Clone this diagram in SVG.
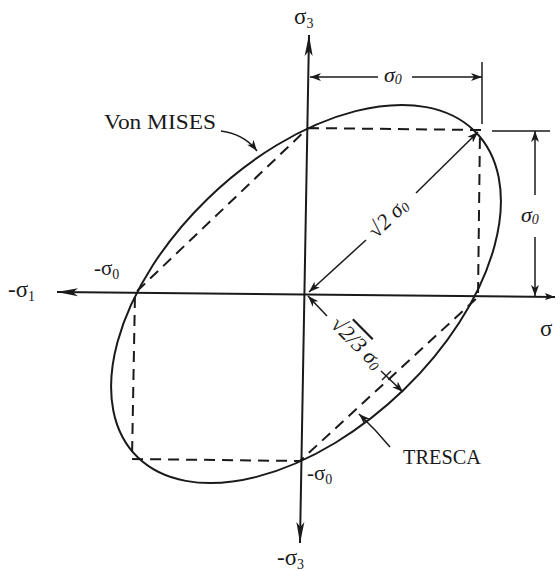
<svg xmlns="http://www.w3.org/2000/svg" width="560" height="571" viewBox="0 0 560 571">
<style>
.ln{stroke:#1a1a1a;stroke-width:2;fill:none}
.thin{stroke:#1a1a1a;stroke-width:1.5;fill:none}
.dash{stroke:#1a1a1a;stroke-width:2;fill:none;stroke-dasharray:11 7}
.lbl{font-family:"Liberation Serif","Times New Roman",serif;font-size:21px;fill:#1a1a1a}
.big{font-size:23px}
.sub{font-size:14px}
.hand{font-family:"Liberation Serif","Times New Roman",serif;font-style:italic;font-size:22px;fill:#1a1a1a}
</style>
<defs>
<marker id="ax" markerUnits="userSpaceOnUse" markerWidth="22" markerHeight="10" refX="21" refY="5" orient="auto-start-reverse">
<path d="M0,1 L21,5 L0,9 L5,5 z" fill="#1a1a1a"/>
</marker>
<marker id="da" markerUnits="userSpaceOnUse" markerWidth="12" markerHeight="8" refX="11" refY="4" orient="auto-start-reverse">
<path d="M0,0 L11,4 L0,8 L3,4 z" fill="#1a1a1a"/>
</marker>
</defs>
<rect width="560" height="571" fill="#ffffff"/>
<g id="axes">
<line class="ln" x1="300" y1="543" x2="309" y2="35" marker-start="url(#ax)" marker-end="url(#ax)"/>
<line class="ln" x1="57" y1="292" x2="555" y2="297" marker-start="url(#ax)"/>
<path d="M555,297 L545,293 L547,297 L545,300 z" fill="#1a1a1a"/>
</g>
<g id="vonmises">
<ellipse cx="0" cy="0" rx="238" ry="139" class="ln" vector-effect="non-scaling-stroke" transform="translate(306,294) scale(1,0.97) rotate(-45)"/>
</g>
<g id="tresca">
<path class="dash" d="M308,128 L480,130 L478,297 L300,461 L132,459 L135,293 Z"/>
</g>
<g id="connectors">
<line class="thin" x1="482" y1="62" x2="482" y2="124"/>
<line class="thin" x1="310" y1="77" x2="378" y2="77" marker-start="url(#da)"/>
<line class="thin" x1="412" y1="77" x2="482" y2="77" marker-end="url(#da)"/>
<line class="thin" x1="492" y1="131" x2="550" y2="131"/>
<line class="thin" x1="535" y1="131" x2="535" y2="195" marker-start="url(#da)"/>
<line class="thin" x1="535" y1="237" x2="535" y2="296" marker-end="url(#da)"/>
<line class="thin" x1="309" y1="292" x2="366" y2="240" marker-start="url(#da)"/>
<line class="thin" x1="416" y1="193" x2="478" y2="132" marker-end="url(#da)"/>
<line class="thin" x1="308" y1="296" x2="327" y2="316" marker-start="url(#da)"/>
<line class="thin" x1="381" y1="371" x2="403" y2="392" marker-end="url(#da)"/>
<line class="thin" x1="382" y1="380" x2="391" y2="371"/>
<path class="thin" d="M221,131 Q244,134 257,151" marker-end="url(#da)"/>
<path class="thin" d="M390,447 Q376,430 359,414" marker-end="url(#da)"/>
</g>
<g id="labels">
<text class="lbl big" x="294" y="24">σ<tspan class="sub" dy="4">3</tspan></text>
<text class="lbl big" x="8" y="297">-σ<tspan class="sub" dy="4">1</tspan></text>
<text class="lbl" x="94" y="275">-σ<tspan class="sub" dy="4">0</tspan></text>
<text class="lbl big" x="540" y="336">σ</text>
<text class="lbl" x="307" y="480">-σ<tspan class="sub" dy="4">0</tspan></text>
<text class="lbl big" x="277" y="565">-σ<tspan class="sub" dy="4">3</tspan></text>
<text class="hand" x="384" y="82">σ<tspan class="sub" dy="2">0</tspan></text>
<text class="hand" x="521" y="222">σ<tspan class="sub" dy="2">0</tspan></text>
<text class="hand" text-anchor="middle" transform="translate(393,223) rotate(-44)">√2 σ<tspan class="sub" dy="2">0</tspan></text>
<text class="hand" text-anchor="middle" transform="translate(352,348) rotate(45)" font-size="19">√<tspan text-decoration="overline">2/3</tspan> σ<tspan class="sub" dy="2">0</tspan></text>
<text class="lbl" x="104" y="129" textLength="112" lengthAdjust="spacingAndGlyphs">Von MISES</text>
<text class="lbl" x="403" y="464" textLength="78" lengthAdjust="spacingAndGlyphs">TRESCA</text>
</g>
</svg>
